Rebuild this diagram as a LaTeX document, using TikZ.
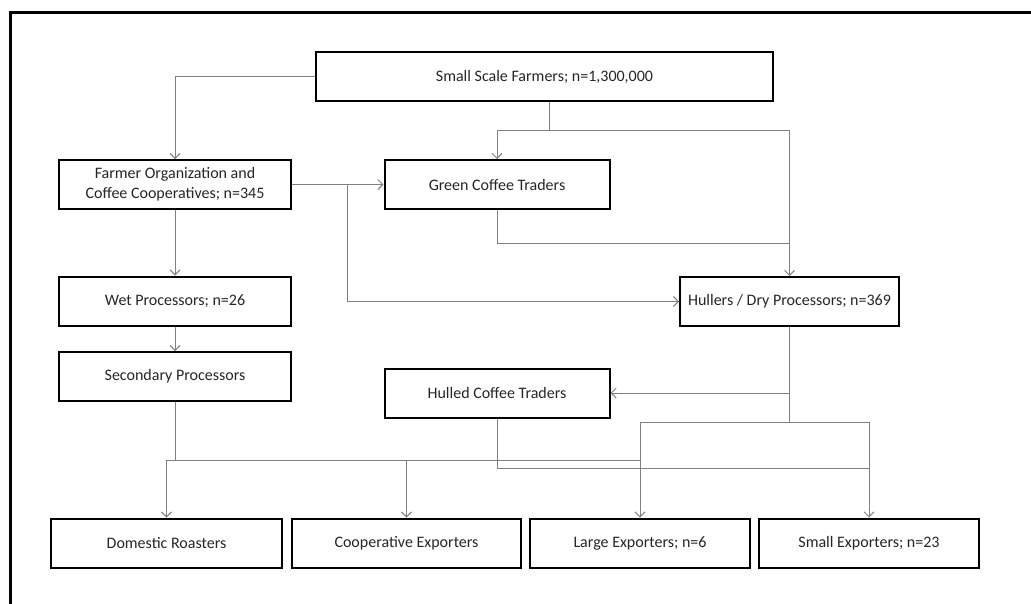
\documentclass[tikz,border=0pt]{standalone}
\usepackage{fontspec}
\setmainfont{Carlito}
\usetikzlibrary{arrows.meta}
\begin{document}
\begin{tikzpicture}[x=1pt,y=-1pt,
  box/.style={draw=black,line width=2pt,fill=white,inner sep=0pt,align=center,
    font=\fontsize{16}{20}\selectfont,text=black!85,minimum height=49pt},
  conn/.style={draw=black!50,line width=1pt},
  arr/.style={conn,-{Straight Barb[length=5pt,width=10pt,line width=1pt]}}]
\useasboundingbox (0,0) rectangle (1031,603);
\fill[white] (0,0) rectangle (1031,603);
\draw[line width=3pt] (10,610) -- (10,12) -- (1040,12);
% nodes
\node[box,minimum width=457pt] (farm) at (544.5,76.5) {Small Scale Farmers; n=1,300,000};
\node[box,minimum width=232pt] (org) at (175,184.5) {Farmer Organization and\\Coffee Cooperatives; n=345};
\node[box,minimum width=225pt] (green) at (497,184.5) {Green Coffee Traders};
\node[box,minimum width=232pt] (wet) at (175,301) {Wet Processors; n=26};
\node[box,minimum width=232pt] (sec) at (175,376.5) {Secondary Processors};
\node[box,minimum width=219pt] (hull) at (789.5,301.5) {Hullers / Dry Processors; n=369};
\node[box,minimum width=225pt] (hulled) at (497,393) {Hulled Coffee Traders};
\node[box,minimum width=231pt] (dom) at (166.5,543) {Domestic Roasters};
\node[box,minimum width=229pt] (coop) at (406.5,543) {Cooperative Exporters};
\node[box,minimum width=220pt] (large) at (640,543) {Large Exporters; n=6};
\node[box,minimum width=220pt] (small) at (869,543) {Small Exporters; n=23};
% junctions
\coordinate (j1) at (549,130);
\coordinate (j2) at (789.5,243);
\coordinate (j3) at (347,184.5);
\coordinate (j4) at (175,460);
\coordinate (j6) at (789.5,422);
\coordinate (j7) at (869,468);
% connectors
\draw[arr] (farm.west) -| (org.north);
\draw[conn] (farm.south -| j1) -- (j1);
\draw[arr] (j1) -| (green.north);
\draw[arr] (j1) -| (hull.north);
\draw[conn] (green.south) |- (j2);
\draw[arr] (org.east) -- (green.west);
\draw[arr] (j3) |- (hull.west);
\draw[arr] (org.south) -- (wet.north);
\draw[arr] (wet.south) -- (sec.north);
\draw[conn] (sec.south) -- (j4);
\draw[arr] (j4) -| (dom.north);
\draw[arr] (j4) -| (coop.north);
\draw[conn] (j4) -- (j4 -| large.north);
\draw[conn] (hull.south) -- (j6);
\draw[arr] (hull.south |- hulled.east) -- (hulled.east);
\draw[arr] (j6) -| (large.north);
\draw[arr] (j6) -| (small.north);
\draw[conn] (hulled.south) |- (j7);
\end{tikzpicture}
\end{document}
